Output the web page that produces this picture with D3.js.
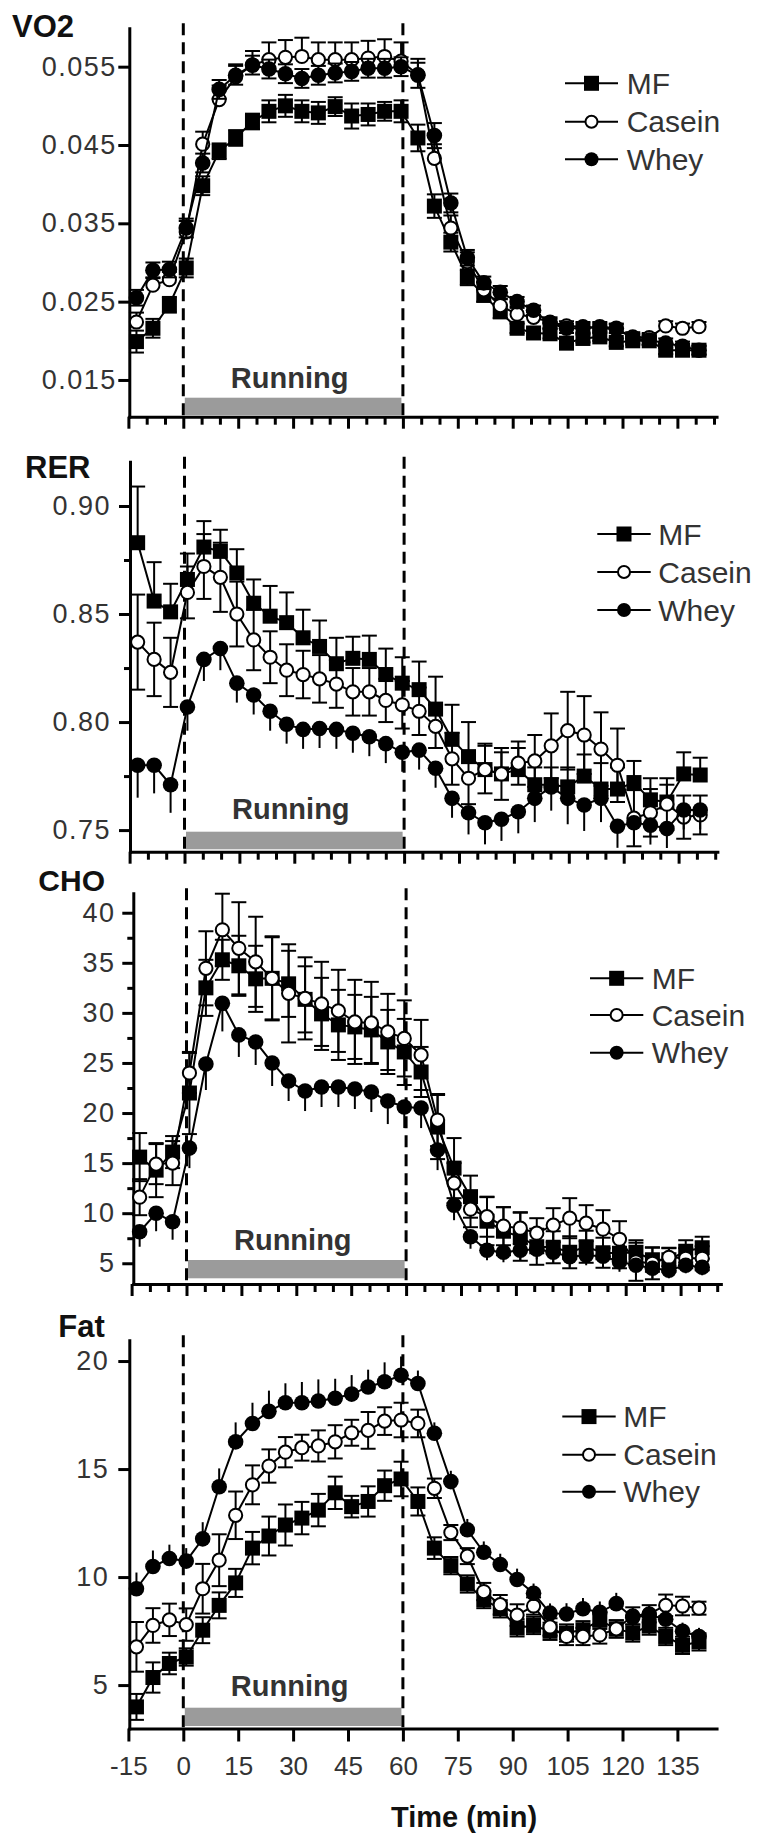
<!DOCTYPE html>
<html><head><meta charset="utf-8">
<script src="https://cdn.jsdelivr.net/npm/d3@7"></script>
<style>
html,body{margin:0;padding:0;background:#fff;}
svg{display:block;}
text{font-family:"Liberation Sans",Arial,Helvetica,sans-serif;}
</style></head><body>
<svg id="chart" width="758" height="1836"></svg>
<script>
// ---------------- DATA ----------------
const times = [-12.8,-8.3,-3.8,0.8,5.3,9.8,14.3,18.9,23.4,27.9,32.4,36.9,41.5,46.0,50.5,55.0,59.5,64.1,68.6,73.1,77.6,82.1,86.6,91.2,95.7,100.2,104.7,109.2,113.8,118.3,122.8,127.3,131.8,136.4,140.9];
const seriesNames = ["MF","Casein","Whey"];

const vo2MF     = [0.0199,0.0216,0.0246,0.0293,0.0398,0.0442,0.0459,0.0480,0.0493,0.0500,0.0493,0.0491,0.0499,0.0487,0.0489,0.0493,0.0493,0.0459,0.0372,0.0326,0.0281,0.0258,0.0237,0.0216,0.0210,0.0209,0.0197,0.0203,0.0205,0.0198,0.0200,0.0200,0.0188,0.0188,0.0188];
const vo2Casein = [0.0224,0.0271,0.0278,0.0339,0.0451,0.0508,0.0537,0.0552,0.0559,0.0562,0.0563,0.0559,0.0559,0.0559,0.0561,0.0563,0.0557,0.0540,0.0433,0.0344,0.0301,0.0265,0.0245,0.0234,0.0230,0.0224,0.0219,0.0218,0.0216,0.0215,0.0205,0.0204,0.0219,0.0216,0.0218];
const vo2Whey   = [0.0255,0.0290,0.0291,0.0344,0.0427,0.0521,0.0539,0.0552,0.0547,0.0541,0.0535,0.0539,0.0542,0.0544,0.0548,0.0548,0.0550,0.0539,0.0462,0.0376,0.0306,0.0274,0.0262,0.0250,0.0239,0.0222,0.0216,0.0216,0.0218,0.0216,0.0203,0.0201,0.0197,0.0193,0.0188];
const vo2MFSem     = [0.0014,0.0012,0.0010,0.0012,0.0012,0.0010,0.0010,0.0010,0.0014,0.0014,0.0014,0.0014,0.0012,0.0016,0.0014,0.0012,0.0014,0.0017,0.0015,0.0012,0.0010,0.0008,0.0008,0.0006,0.0006,0.0006,0.0005,0.0005,0.0005,0.0005,0.0005,0.0005,0.0005,0.0005,0.0005];
const vo2CaseinSem = [0.0012,0.0010,0.0010,0.0014,0.0016,0.0018,0.0016,0.0018,0.0022,0.0022,0.0024,0.0022,0.0022,0.0022,0.0022,0.0022,0.0024,0.0020,0.0018,0.0016,0.0012,0.0010,0.0008,0.0008,0.0007,0.0006,0.0006,0.0006,0.0006,0.0006,0.0006,0.0006,0.0006,0.0006,0.0006];
const vo2WheySem   = [0.0010,0.0010,0.0010,0.0012,0.0012,0.0012,0.0012,0.0012,0.0012,0.0012,0.0012,0.0012,0.0012,0.0012,0.0012,0.0012,0.0012,0.0016,0.0016,0.0012,0.0010,0.0008,0.0008,0.0006,0.0006,0.0006,0.0006,0.0006,0.0006,0.0006,0.0006,0.0006,0.0006,0.0006,0.0006];

const rerMF     = [0.883,0.856,0.851,0.866,0.881,0.879,0.869,0.855,0.849,0.846,0.839,0.835,0.827,0.8295,0.829,0.822,0.818,0.815,0.806,0.792,0.784,0.778,0.776,0.778,0.771,0.771,0.770,0.775,0.769,0.769,0.772,0.764,0.763,0.776,0.7755];
const rerCasein = [0.837,0.829,0.823,0.860,0.872,0.867,0.850,0.838,0.830,0.824,0.822,0.820,0.8176,0.814,0.814,0.810,0.808,0.805,0.798,0.783,0.774,0.778,0.776,0.781,0.782,0.789,0.796,0.794,0.7875,0.780,0.7555,0.758,0.762,0.756,0.757];
const rerWhey   = [0.780,0.780,0.771,0.807,0.829,0.834,0.818,0.8125,0.805,0.799,0.7966,0.797,0.7966,0.7948,0.7932,0.790,0.786,0.787,0.7786,0.7647,0.758,0.7534,0.755,0.7585,0.7647,0.770,0.7647,0.7616,0.7647,0.7518,0.7534,0.7523,0.7507,0.7593,0.7593];
const rerMFSem     = [0.026,0.018,0.013,0.012,0.012,0.010,0.011,0.011,0.014,0.014,0.013,0.012,0.012,0.010,0.011,0.012,0.012,0.013,0.015,0.016,0.016,0.012,0.010,0.010,0.008,0.008,0.009,0.010,0.012,0.010,0.010,0.010,0.008,0.010,0.008];
const rerCaseinSem = [0.022,0.017,0.016,0.012,0.015,0.016,0.015,0.014,0.012,0.012,0.011,0.011,0.011,0.011,0.011,0.010,0.011,0.011,0.010,0.012,0.012,0.011,0.012,0.010,0.012,0.015,0.018,0.018,0.017,0.017,0.013,0.011,0.012,0.010,0.009];
const rerWheySem   = [0.015,0.013,0.013,0.011,0.010,0.010,0.009,0.009,0.009,0.009,0.009,0.009,0.009,0.009,0.009,0.009,0.009,0.009,0.009,0.009,0.010,0.010,0.010,0.010,0.011,0.011,0.012,0.012,0.011,0.010,0.010,0.009,0.009,0.009,0.009];

const choMF     = [15.6,14.3,16.1,22.0,32.5,35.3,34.7,33.4,33.45,32.9,31.35,29.9,28.8,28.6,28.3,27.1,26.1,24.1,18.6,14.5,11.65,9.2,8.2,7.65,6.65,6.6,6.1,6.65,6.05,6.0,6.1,5.35,5.35,6.2,6.55];
const choCasein = [11.6,14.9,15.0,24.0,34.45,38.3,36.45,35.1,33.45,31.95,31.45,30.9,30.2,29.1,29.0,28.1,27.45,25.8,19.3,13.0,10.4,9.65,8.7,8.5,8.0,8.8,9.5,9.0,8.4,7.4,5.15,5.0,5.6,5.5,5.5];
const choWhey   = [8.15,10.0,9.15,16.5,24.9,30.95,27.8,27.1,25.0,23.2,22.2,22.6,22.6,22.4,22.1,21.2,20.6,20.5,16.3,10.8,7.65,6.3,6.1,6.3,6.4,6.1,5.65,5.8,5.7,5.15,4.8,4.5,4.3,4.8,4.6];
const choMFSem     = [2.4,2.7,1.6,4.1,2.8,2.0,3.0,3.3,4.1,3.3,3.3,3.6,3.5,3.2,3.3,3.2,3.3,2.5,3.2,3.0,2.1,2.4,2.4,2.4,1.8,1.6,1.6,1.6,1.5,1.5,1.2,1.2,1.2,1.1,1.1];
const choCaseinSem = [1.8,2.0,2.2,2.0,3.7,3.6,4.6,4.5,4.2,4.9,4.1,4.2,4.1,4.2,4.1,3.8,3.8,3.5,2.6,2.0,1.8,2.0,1.9,1.6,1.5,1.7,2.0,1.8,1.9,1.8,1.9,1.6,0.9,1.0,1.2];
const choWheySem   = [1.5,1.8,1.8,2.0,2.6,2.8,2.2,2.3,2.3,2.0,2.0,2.0,2.0,2.0,2.0,2.3,2.1,2.0,2.0,1.5,1.2,1.0,1.0,1.0,1.0,1.0,1.0,1.0,1.0,1.0,1.0,1.0,0.8,0.8,0.8];

const fatMF     = [3.99,5.35,6.0,6.3,7.54,8.69,9.73,11.34,11.9,12.41,12.73,13.1,13.9,13.26,13.5,14.23,14.54,13.5,11.34,10.53,9.68,8.96,8.53,7.65,7.76,7.49,7.41,7.56,8.0,7.6,7.41,7.73,7.25,6.84,7.0];
const fatCasein = [6.77,7.76,8.02,7.8,9.46,10.78,12.86,14.27,15.14,15.78,15.99,16.07,16.26,16.68,16.79,17.22,17.27,17.11,14.11,12.06,10.97,9.33,8.72,8.24,8.66,7.69,7.25,7.25,7.32,7.6,8.2,8.3,8.69,8.66,8.56];
const fatWhey   = [9.46,10.49,10.86,10.74,11.77,14.18,16.26,17.11,17.67,18.07,18.07,18.15,18.28,18.47,18.8,19.04,19.34,18.96,16.66,14.42,12.19,11.15,10.58,9.89,9.25,8.33,8.29,8.53,8.37,8.77,8.13,8.24,8.05,7.49,7.25];
const fatMFSem     = [0.6,0.7,0.5,0.4,0.6,0.6,0.65,0.75,0.9,0.95,0.75,0.75,0.75,0.5,0.7,0.7,0.8,0.65,0.5,0.4,0.4,0.4,0.4,0.4,0.4,0.4,0.4,0.4,0.4,0.4,0.4,0.4,0.4,0.4,0.4];
const fatCaseinSem = [1.15,0.8,0.75,0.75,1.15,1.2,1.1,0.9,0.77,0.7,0.6,0.72,0.77,0.6,0.85,0.64,0.8,0.64,0.45,0.35,0.37,0.4,0.45,0.5,0.4,0.4,0.4,0.4,0.4,0.4,0.4,0.4,0.5,0.43,0.3];
const fatWheySem   = [0.75,0.74,0.64,0.6,0.77,0.85,0.9,0.96,0.96,0.9,0.96,1.0,0.9,0.88,0.8,0.9,0.87,0.6,0.5,0.5,0.5,0.5,0.5,0.5,0.45,0.45,0.5,0.5,0.5,0.5,0.4,0.4,0.4,0.4,0.4];

const vo2Ticks = [0.015,0.025,0.035,0.045,0.055];
const rerTicks = [0.75,0.80,0.85,0.90];
const rerMinor = [0.775,0.825,0.875];
const choTicks = [5,10,15,20,25,30,35,40];
const choMinor = [7.5,12.5,17.5,22.5,27.5,32.5,37.5];
const fatTicks = [5,10,15,20];
const timeTicks = [-15,0,15,30,45,60,75,90,105,120,135];
const timeMinor = [-10,-5,5,10,20,25,35,40,50,55,65,70,80,85,95,100,110,115,125,130,140,145];
const runStart = 0, runEnd = 60;

// ---------------- LAYOUT ----------------
const panels = [
  {title:"VO2", series:[vo2MF,vo2Casein,vo2Whey], sems:[vo2MFSem,vo2CaseinSem,vo2WheySem],
   yDomain:[0.01031,0.0599], yRange:[416.7,28.3], yTicks:vo2Ticks, yMinor:[], fmt:d3.format(".3f"), ypad:1.5,
   axisX:129.3, x0:183.3, k:3.66, xEnd:145.7, titleX:12, titleY:37, titleSize:31,
   runBase:388, barGap:1.5, barH:17.5,
   errDir:["both","up","both"], errCap:[true,true,true],
   leg:{x1:565,x2:618,tx:626.7,rows:[83.3,121.7,159.3]}, last:false},
  {title:"RER", series:[rerMF,rerCasein,rerWhey], sems:[rerMFSem,rerCaseinSem,rerWheySem],
   yDomain:[0.740,0.9205], yRange:[851.7,461.7], yTicks:rerTicks, yMinor:rerMinor, fmt:d3.format(".2f"), ypad:8,
   axisX:130, x0:184.5, k:3.66, xEnd:145.6, titleX:25, titleY:478.3, titleSize:31,
   runBase:819.3, barGap:2.4, barH:17.6,
   errDir:["up","both","down"], errCap:[true,true,false],
   leg:{x1:597.3,x2:650.7,tx:658.3,rows:[534,572,610]}, last:false},
  {title:"CHO", series:[choMF,choCasein,choWhey], sems:[choMFSem,choCaseinSem,choWheySem],
   yDomain:[2.93,41.94], yRange:[1284,893.3], yTicks:choTicks, yMinor:choMinor, fmt:d3.format("d"), ypad:6.7,
   axisX:133.3, x0:186.5, k:3.66, xEnd:146, titleX:38.3, titleY:891, titleSize:30,
   runBase:1250, barGap:5.7, barH:18.3,
   errDir:["both","both","down"], errCap:[true,true,false],
   leg:{x1:590,x2:643.3,tx:651.7,rows:[978.3,1015,1052.7]}, last:false},
  {title:"Fat", series:[fatMF,fatCasein,fatWhey], sems:[fatMFSem,fatCaseinSem,fatWheySem],
   yDomain:[2.99,20.96], yRange:[1728.5,1340.3], yTicks:fatTicks, yMinor:[], fmt:d3.format("d"), ypad:9,
   axisX:129.3, x0:183.3, k:3.66, xEnd:145.7, titleX:58.3, titleY:1337, titleSize:31,
   runBase:1695.6, barGap:2.5, barH:18.3,
   errDir:["both","both","up"], errCap:[true,true,false],
   leg:{x1:562.3,x2:615.7,tx:623.3,rows:[1416.6,1454.7,1491.8]}, last:true}
];

const svg = d3.select("#chart");

function drawMarker(g, kind, cx, cy){
  if(kind===0){
    g.append("rect").attr("x",cx-7.5).attr("y",cy-7.5).attr("width",15).attr("height",15).attr("fill","#000");
  } else if(kind===1){
    g.append("circle").attr("cx",cx).attr("cy",cy).attr("r",6.6).attr("fill","#fff").attr("stroke","#000").attr("stroke-width",2);
  } else {
    g.append("circle").attr("cx",cx).attr("cy",cy).attr("r",7.8).attr("fill","#000");
  }
}

panels.forEach(p => {
  const g = svg.append("g");
  const x = d3.scaleLinear().domain([(p.axisX - p.x0)/p.k, p.xEnd]).range([p.axisX, p.x0 + p.xEnd*p.k]);
  const y = d3.scaleLinear().domain(p.yDomain).range(p.yRange);
  const axisY = p.yRange[0], topY = p.yRange[1];

  // running bar + label
  g.append("rect").attr("x", x(runStart)+1.5).attr("width", x(runEnd)-x(runStart)-3)
    .attr("y", axisY - p.barGap - p.barH).attr("height", p.barH).attr("fill","#9b9b9b");
  g.append("text").attr("x",(x(runStart)+x(runEnd))/2-3.5).attr("y",p.runBase)
    .attr("text-anchor","middle").attr("font-weight","bold").attr("font-size",29).attr("fill","#333").text("Running");

  // dashed lines
  [runStart, runEnd].forEach(t => g.append("line").attr("x1",x(t)).attr("x2",x(t))
    .attr("y1",topY-5).attr("y2",axisY).attr("stroke","#000").attr("stroke-width",3).attr("stroke-dasharray","12,7"));

  // y axis
  const ya = g.append("g").attr("transform",`translate(${p.axisX},0)`)
    .call(d3.axisLeft(y).tickValues(p.yTicks).tickSize(11).tickSizeOuter(0).tickPadding(p.ypad).tickFormat(p.fmt));
  ya.select(".domain").attr("stroke-width",3).attr("stroke-linecap","square");
  ya.selectAll(".tick line").attr("stroke-width",3);
  ya.selectAll(".tick text").attr("font-size",27).attr("fill","#333").attr("letter-spacing","1.5px")
    .attr("font-family","Liberation Sans, Arial, sans-serif");
  if(p.yMinor.length){
    const ym = g.append("g").attr("transform",`translate(${p.axisX},0)`)
      .call(d3.axisLeft(y).tickValues(p.yMinor).tickSize(6).tickSizeOuter(0).tickFormat(() => ""));
    ym.select(".domain").remove();
    ym.selectAll(".tick line").attr("stroke-width",3);
  }

  // x axis
  const xa = g.append("g").attr("transform",`translate(0,${axisY})`)
    .call(d3.axisBottom(x).tickValues(timeTicks).tickSize(p.last?13:12).tickSizeOuter(0).tickPadding(15)
      .tickFormat(p.last ? (d => String(d)) : (() => "")));
  xa.select(".domain").attr("stroke-width",3).attr("stroke-linecap","square");
  xa.selectAll(".tick line").attr("stroke-width",3);
  xa.selectAll(".tick text").attr("font-size",26).attr("fill","#333")
    .attr("font-family","Liberation Sans, Arial, sans-serif");
  if(!p.last){
    const xm = g.append("g").attr("transform",`translate(0,${axisY})`)
      .call(d3.axisBottom(x).tickValues(timeMinor).tickSize(8).tickSizeOuter(0).tickFormat(() => ""));
    xm.select(".domain").remove();
    xm.selectAll(".tick line").attr("stroke-width",3);
  }

  // title
  g.append("text").attr("x",p.titleX).attr("y",p.titleY).attr("font-weight","bold")
    .attr("font-size",p.titleSize).attr("fill","#111").text(p.title);

  // series
  const line = d3.line().x((d,i) => x(times[i])).y(d => y(d));
  p.series.forEach((vals, si) => {
    const sg = g.append("g");
    const sem = p.sems[si], dir = p.errDir[si], cap = p.errCap[si];
    vals.forEach((v,i) => {
      const cx = x(times[i]);
      const ends = [];
      if(dir==="up"||dir==="both") ends.push(y(v+sem[i]));
      if(dir==="down"||dir==="both") ends.push(y(v-sem[i]));
      ends.forEach(ey => {
        sg.append("line").attr("x1",cx).attr("x2",cx).attr("y1",y(v)).attr("y2",ey)
          .attr("stroke","#000").attr("stroke-width",2);
        if(cap) sg.append("line").attr("x1",cx-7.5).attr("x2",cx+7.5).attr("y1",ey).attr("y2",ey)
          .attr("stroke","#000").attr("stroke-width",2);
      });
    });
    sg.append("path").datum(vals).attr("d",line).attr("fill","none").attr("stroke","#000").attr("stroke-width",2);
    vals.forEach((v,i) => drawMarker(sg, si, x(times[i]), y(v)));
  });

  // legend
  seriesNames.forEach((name, si) => {
    const ry = p.leg.rows[si];
    g.append("line").attr("x1",p.leg.x1).attr("x2",p.leg.x2).attr("y1",ry).attr("y2",ry)
      .attr("stroke","#000").attr("stroke-width",2);
    const mx = (p.leg.x1+p.leg.x2)/2;
    if(si===0) g.append("rect").attr("x",mx-7.5).attr("y",ry-7.5).attr("width",15).attr("height",15).attr("fill","#000");
    else if(si===1) g.append("circle").attr("cx",mx).attr("cy",ry).attr("r",6).attr("fill","#fff").attr("stroke","#000").attr("stroke-width",2);
    else g.append("circle").attr("cx",mx).attr("cy",ry).attr("r",7).attr("fill","#000");
    g.append("text").attr("x",p.leg.tx).attr("y",ry+10.5).attr("font-size",30).attr("fill","#333").text(name);
  });

  if(p.last){
    g.append("text").attr("x",464).attr("y",1827).attr("text-anchor","middle")
      .attr("font-weight","bold").attr("font-size",29).attr("fill","#111").text("Time (min)");
  }
});
</script>
</body></html>
